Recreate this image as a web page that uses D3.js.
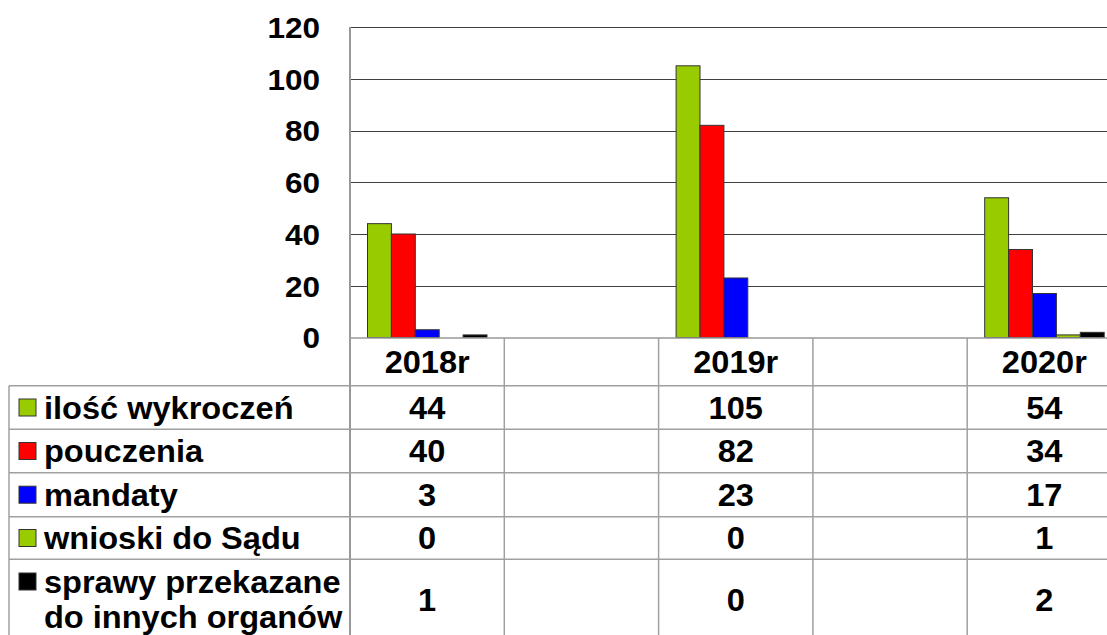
<!DOCTYPE html>
<html>
<head>
<meta charset="utf-8">
<script src="https://cdn.jsdelivr.net/npm/d3@7"></script>
<style>
  body { margin: 0; background: #fff; }
  text { font-family: "Liberation Sans", Arial, sans-serif; font-weight: bold; fill: #000; }
</style>
</head>
<body>
<div class="chart"></div>
<script>
// columns of the chart (empty ones are the gaps between the years)
const categories = ["2018r", "", "2019r", "", "2020r"];
const years = ["2018r", "2019r", "2020r"];

const seriesNames = ["ilość wykroczeń", "pouczenia", "mandaty", "wnioski do Sądu", "sprawy przekazane|do innych organów"];
const seriesColors = ["#99cc00", "#ff0000", "#0000ff", "#99cc00", "#000000"];

const iloscWykroczen = [44, 105, 54];
const pouczenia = [40, 82, 34];
const mandaty = [3, 23, 17];
const wnioskiDoSadu = [0, 0, 1];
const sprawyPrzekazane = [1, 0, 2];
const seriesValues = [iloscWykroczen, pouczenia, mandaty, wnioskiDoSadu, sprawyPrzekazane];

const yTicks = [0, 20, 40, 60, 80, 100, 120];

const W = 1107, H = 635;
const svg = d3.select(".chart").append("svg").attr("width", W).attr("height", H);

const x = d3.scaleBand()
  .domain(d3.range(categories.length))
  .range([350, 350 + 5 * 154.3])
  .padding(0);

const xInner = d3.scaleBand()
  .domain(d3.range(seriesNames.length))
  .range([17.5, 137])
  .padding(0);

const y = d3.scaleLinear().domain([0, 120]).range([337.5, 27]);

// gridlines
svg.append("g")
  .selectAll("line")
  .data(yTicks.filter(d => d > 0))
  .join("line")
  .attr("x1", 350).attr("x2", W)
  .attr("y1", d => Math.round(y(d)) + 0.5).attr("y2", d => Math.round(y(d)) + 0.5)
  .attr("stroke", "#404040")
  .attr("stroke-width", 1);

// y labels
svg.append("g")
  .selectAll("text")
  .data(yTicks)
  .join("text")
  .attr("transform", d => `translate(320,${y(d)}) scale(1.05,1)`)
  .attr("dy", "0.36em")
  .attr("text-anchor", "end")
  .style("font-size", "30px")
  .text(d => d);

// bars
const barData = [];
seriesValues.forEach((vals, s) => {
  vals.forEach((v, i) => {
    barData.push({ s: s, cat: categories.indexOf(years[i]), v: v });
  });
});

svg.append("g")
  .selectAll("rect")
  .data(barData.filter(d => d.v > 0))
  .join("rect")
  .attr("x", d => x(d.cat) + xInner(d.s))
  .attr("width", xInner.bandwidth())
  .attr("y", d => y(d.v))
  .attr("height", d => y(0) - y(d.v))
  .attr("fill", d => seriesColors[d.s])
  .attr("stroke", "#333")
  .attr("stroke-width", 1);

// axis lines
svg.append("line")
  .attr("x1", 350).attr("x2", 350).attr("y1", 27).attr("y2", H)
  .attr("stroke", "#999").attr("stroke-width", 2);
svg.append("line")
  .attr("x1", 350).attr("x2", W).attr("y1", 338).attr("y2", 338)
  .attr("stroke", "#999").attr("stroke-width", 1.5);

// data table
const rowLines = [385.7, 429.3, 472.7, 516.7, 559.3];
const rowCenters = [407.5, 451, 494.7, 538, 599.5];
const tableLeft = 9;
const lineColor = "#a0a0a0";

const table = svg.append("g");
table.selectAll("line.h")
  .data(rowLines)
  .join("line")
  .attr("class", "h")
  .attr("x1", tableLeft).attr("x2", W)
  .attr("y1", d => d).attr("y2", d => d)
  .attr("stroke", lineColor).attr("stroke-width", 1.5);

table.selectAll("line.v")
  .data(d3.range(1, categories.length))
  .join("line")
  .attr("class", "v")
  .attr("x1", d => x(d)).attr("x2", d => x(d))
  .attr("y1", 338).attr("y2", H)
  .attr("stroke", lineColor).attr("stroke-width", 1.5);

table.append("line")
  .attr("x1", tableLeft).attr("x2", tableLeft)
  .attr("y1", rowLines[0]).attr("y2", H)
  .attr("stroke", lineColor).attr("stroke-width", 1.5);

// header
table.selectAll("text.head")
  .data(years)
  .join("text")
  .attr("class", "head")
  .attr("transform", d => `translate(${x(categories.indexOf(d)) + x.bandwidth() / 2},362) scale(1.05,1)`)
  .attr("dy", "0.36em")
  .attr("text-anchor", "middle")
  .style("font-size", "31px")
  .text(d => d);

// row labels with legend keys
seriesNames.forEach((name, s) => {
  const lines = name.split("|");
  const cy = rowCenters[s];
  const firstY = lines.length > 1 ? cy - 18 : cy;
  table.append("rect")
    .attr("x", 19).attr("y", firstY - 8.5)
    .attr("width", 17).attr("height", 17)
    .attr("fill", seriesColors[s])
    .attr("stroke", "#333").attr("stroke-width", 1);
  lines.forEach((ln, k) => {
    table.append("text")
      .attr("transform", `translate(44,${firstY + k * 35.6}) scale(1.05,1)`)
      .attr("dy", "0.36em")
      .style("font-size", "31px")
      .text(ln);
  });
  seriesValues[s].forEach((v, i) => {
    table.append("text")
      .attr("transform", `translate(${x(categories.indexOf(years[i])) + x.bandwidth() / 2},${cy}) scale(1.05,1)`)
      .attr("dy", "0.36em")
      .attr("text-anchor", "middle")
      .style("font-size", "31px")
      .text(v);
  });
});
</script>
</body>
</html>
